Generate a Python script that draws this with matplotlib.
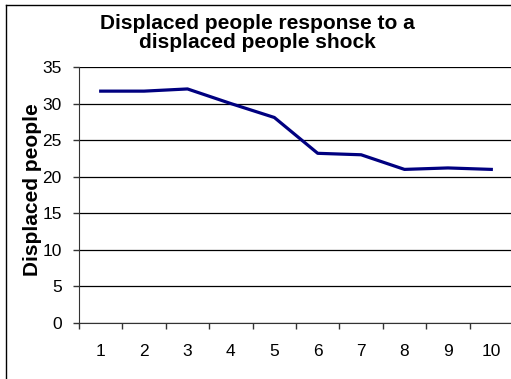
import matplotlib.pyplot as plt
from matplotlib.lines import Line2D

plt.rcParams['font.family'] = ['Liberation Sans', 'DejaVu Sans']

periods = list(range(1, 11))
displaced = [31.7, 31.7, 32.0, 30.0, 28.1, 23.2, 23.0, 21.0, 21.2, 21.0]
y_ticks = [0, 5, 10, 15, 20, 25, 30, 35]
title_lines = ['Displaced people response to a', 'displaced people shock']

W, H = 511, 379
fig = plt.figure(figsize=(W / 100, H / 100), dpi=100)

# plot area (right edge sits just past the image edge, as in the original)
left, right, top, bottom = 79, 513, 67, 323
ax = fig.add_axes([left / W, 1 - bottom / H, (right - left) / W, (bottom - top) / H])

ax.plot(periods, displaced, color='#000080', linewidth=2.3, solid_joinstyle='round', clip_on=False)

ax.set_xlim(0.5, 10.5)
ax.set_ylim(0, 35)

# category axis: ticks between categories, labels centred
ax.set_xticks([p - 0.5 for p in periods] + [periods[-1] + 0.5])
ax.set_xticklabels([])
ax.set_xticks(periods, minor=True)
ax.set_xticklabels([str(p) for p in periods], minor=True, fontsize=12.5)
ax.tick_params(axis='x', which='major', direction='out', length=4, width=1, color='#333333')
ax.tick_params(axis='x', which='minor', length=0, pad=15)

ax.set_yticks(y_ticks)
ax.set_yticklabels([str(v) for v in y_ticks], fontsize=12.5)
ax.tick_params(axis='y', direction='out', length=4, width=1, pad=8.5, color='#333333')

ax.yaxis.grid(True, color='black', linewidth=0.9)
ax.set_axisbelow(True)
for side in ['top', 'right']:
    ax.spines[side].set_visible(False)
ax.spines['left'].set_color('#333333')
ax.spines['bottom'].set_color('#333333')

fig.text(33 / W, 1 - 190 / H, 'Displaced people', rotation=90, ha='center', va='center',
         fontsize=15, fontweight='bold')

fig.text(257 / W, 1 - 29 / H, title_lines[0], ha='center', va='baseline', fontsize=15, fontweight='bold')
fig.text(257 / W, 1 - 48 / H, title_lines[1], ha='center', va='baseline', fontsize=15, fontweight='bold')

# outer chart border (right/bottom edges are cropped off in the reference)
fig.add_artist(Line2D([5.5 / W, 5.5 / W], [0, 1 - 4.5 / H], transform=fig.transFigure, color='black', linewidth=1))
fig.add_artist(Line2D([5.5 / W, 1], [1 - 4.5 / H, 1 - 4.5 / H], transform=fig.transFigure, color='black', linewidth=1))

fig.savefig('out.png', dpi=100)
